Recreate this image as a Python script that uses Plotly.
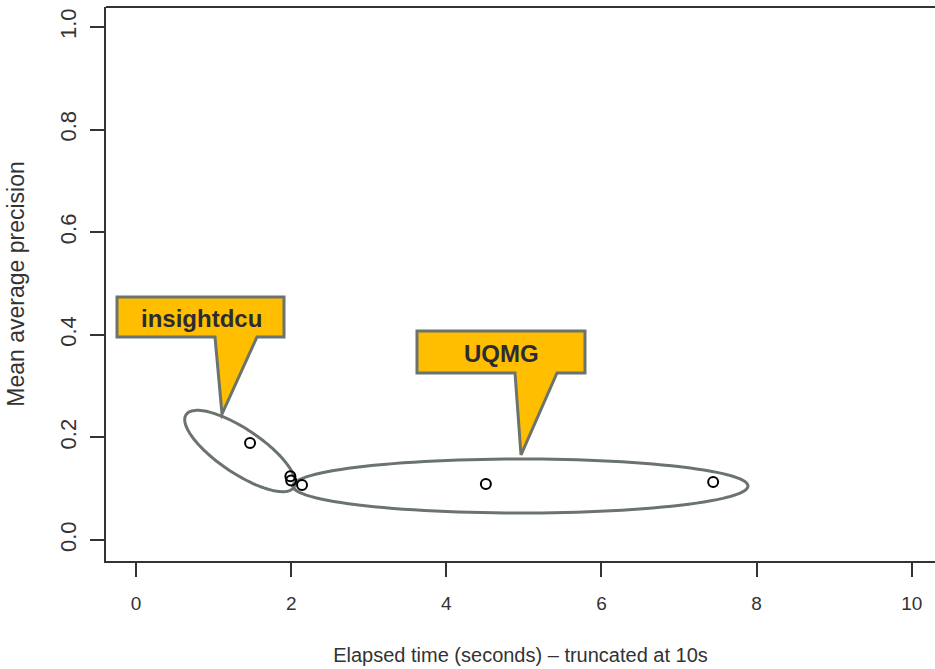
import numpy as np
import plotly.graph_objects as go

# ---- data ----
elapsed_time = [1.47, 1.99, 2.00, 2.14, 4.51, 7.44]
mean_avg_precision = [0.189, 0.124, 0.116, 0.107, 0.109, 0.113]
x_ticks = [0, 2, 4, 6, 8, 10]
y_ticks = [0.0, 0.2, 0.4, 0.6, 0.8, 1.0]
y_tick_labels = ["0.0", "0.2", "0.4", "0.6", "0.8", "1.0"]
group_labels = ["insightdcu", "UQMG"]

W, H = 935, 669
ML, MR, MT, MB = 106, 0, 7, 108
X_RANGE = [-0.387, 10.30]
Y_RANGE = [-0.041, 1.039]

def px2x(px):
    return X_RANGE[0] + (px - ML) / (W - ML - MR) * (X_RANGE[1] - X_RANGE[0])

def py2y(py):
    return Y_RANGE[1] - (py - MT) / (H - MT - MB) * (Y_RANGE[1] - Y_RANGE[0])

def path_from_px(pts, close=True):
    s = "M " + " L ".join(f"{px2x(a):.5f},{py2y(b):.5f}" for a, b in pts)
    return s + (" Z" if close else "")

def ellipse_px(cx, cy, a, b, deg, n=120):
    t = np.linspace(0, 2 * np.pi, n)
    th = np.radians(deg)
    xs = cx + a * np.cos(t) * np.cos(th) - b * np.sin(t) * np.sin(th)
    ys = cy + a * np.cos(t) * np.sin(th) + b * np.sin(t) * np.cos(th)
    return list(zip(xs, ys))

EDGE = "#6B736E"
GOLD = "#FFBE00"
AX = "#333333"
FONT = "Liberation Sans, Arial"

fig = go.Figure()
fig.add_trace(go.Scatter(
    x=elapsed_time, y=mean_avg_precision, mode="markers",
    marker=dict(symbol="circle-open", size=10, color="black", line=dict(width=2)),
    showlegend=False, hoverinfo="x+y"))

shapes = []
shapes.append(dict(type="path", path=path_from_px(ellipse_px(240, 451, 65, 22, 34)),
                   line=dict(color=EDGE, width=3), layer="below"))
shapes.append(dict(type="path", path=path_from_px(ellipse_px(520.5, 486, 227.5, 27, 0)),
                   line=dict(color=EDGE, width=3), layer="below"))
shapes.append(dict(type="path",
                   path=path_from_px([(117, 297), (284, 297), (284, 337), (257, 337),
                                      (222, 414), (215, 337), (117, 337)]),
                   fillcolor=GOLD, line=dict(color=EDGE, width=3), layer="above"))
shapes.append(dict(type="path",
                   path=path_from_px([(417, 331), (585, 331), (585, 373), (557, 373),
                                      (521, 455), (515, 373), (417, 373)]),
                   fillcolor=GOLD, line=dict(color=EDGE, width=3), layer="above"))
shapes.append(dict(type="line", xref="paper", yref="paper", x0=0, x1=1, y0=1, y1=1,
                   line=dict(color=AX, width=2)))

annotations = [
    dict(x=px2x(201), y=py2y(318), text="<b>" + group_labels[0] + "</b>", showarrow=False,
         font=dict(family=FONT, size=24, color="#2B2B35")),
    dict(x=px2x(501), y=py2y(353), text="<b>" + group_labels[1] + "</b>", showarrow=False,
         font=dict(family=FONT, size=24, color="#2B2B35")),
]

fig.update_layout(
    width=W, height=H,
    margin=dict(l=ML, r=MR, t=MT, b=MB),
    paper_bgcolor="white", plot_bgcolor="white",
    font=dict(family=FONT, size=19, color=AX),
    shapes=shapes, annotations=annotations,
    xaxis=dict(range=X_RANGE, tickvals=x_ticks, ticktext=[str(v) for v in x_ticks],
               showgrid=False, zeroline=False, showline=True, linecolor=AX, linewidth=2,
               ticks="outside", ticklen=14, tickwidth=1.5, tickcolor=AX,
               tickfont=dict(size=19), ticklabelstandoff=10,
               title=dict(text="Elapsed time (seconds) \u2013 truncated at 10s", standoff=35,
                          font=dict(size=20))),
    yaxis=dict(range=Y_RANGE, tickvals=y_ticks, ticktext=y_tick_labels, tickangle=-90,
               showgrid=False, zeroline=False, showline=True, linecolor=AX, linewidth=2,
               ticks="outside", ticklen=14, tickwidth=1.5, tickcolor=AX,
               tickfont=dict(size=22), ticklabelstandoff=5,
               title=dict(text="Mean average precision", standoff=25, font=dict(size=23))),
)

fig.write_html("out.html", config={"displayModeBar": False},
               post_script="document.body.style.margin='0px';")
